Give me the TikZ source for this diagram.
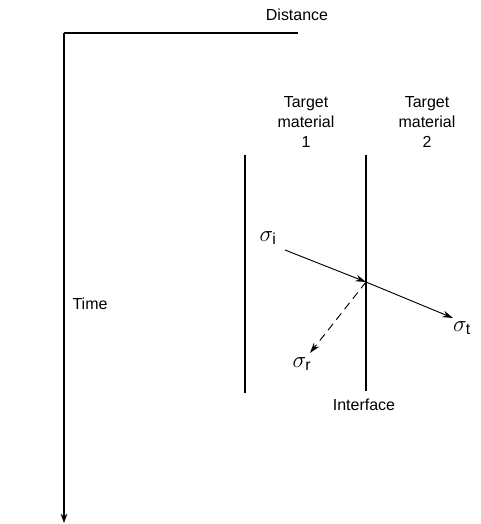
\documentclass[tikz,border=0pt]{standalone}
\usepackage{fontspec}
\setmainfont{Liberation Sans}
\usetikzlibrary{arrows.meta,positioning}
\tikzset{
  lbl/.style={align=center,font=\fontsize{12}{15}\selectfont,inner sep=1pt},
  sig/.style={font=\fontsize{17}{18}\selectfont,inner sep=1pt},
  axis/.style={line width=0.9pt,draw=black},
  wall/.style={line width=0.9pt,draw=black},
  wave/.style={-{Stealth[length=8pt,width=5pt]},line width=0.7pt},
  wavedash/.style={wave,dashed,dash pattern=on 6pt off 4pt},
}

\begin{document}
\begin{tikzpicture}[x=0.0264cm,y=-0.0264cm]
  \useasboundingbox (0,0) rectangle (481,524);
  % axes
  \coordinate (org) at (64,33);
  \coordinate (tend) at (64,523);
  \coordinate (dend) at (298,33);
  \draw[axis] (org) -- (dend);
  \draw[axis,-{Stealth[length=7pt,width=5pt]}] (org) -- (tend);
  \node[lbl] (dist) at (297,15) {Distance};
  \node[lbl] (time) at (90,304) {Time};
  % material boundaries
  \coordinate (lt) at (245,155);
  \coordinate (lb) at (245,393);
  \coordinate (it) at (366,155);
  \coordinate (ib) at (366,391);
  \draw[wall] (lt) -- (lb);
  \draw[wall] (it) -- (ib);
  \node[lbl] (mat1) at (306,122) {Target\\material\\1};
  \node[lbl] (mat2) at (427,122) {Target\\material\\2};
  \node[lbl] (intf) at (364,405) {Interface};
  % stress waves
  \coordinate (hit) at (366,282);
  \coordinate (inc) at (285,250);
  \coordinate (trn) at (453,318);
  \coordinate (ref) at (310,353);
  \draw[wave] (inc) -- (hit);
  \draw[wave] (hit) -- (trn);
  \draw[wavedash] (hit) -- (ref);
  \node[sig] (si) at (268,238) {$\sigma_{\mathrm{i}}$};
  \node[sig] (st) at (462,328) {$\sigma_{\mathrm{t}}$};
  \node[sig] (sr) at (302,364) {$\sigma_{\mathrm{r}}$};
\end{tikzpicture}
\end{document}
